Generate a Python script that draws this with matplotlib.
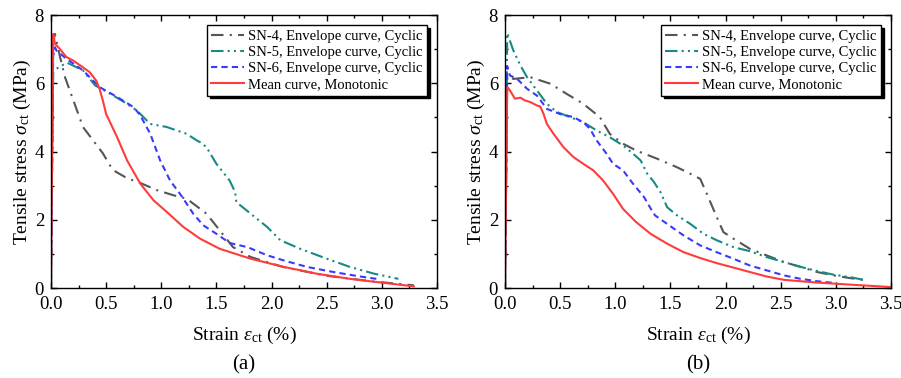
import matplotlib
matplotlib.use("Agg")
import matplotlib.pyplot as plt
from matplotlib.ticker import MultipleLocator

plt.rcParams['font.family'] = ['Liberation Serif', 'DejaVu Serif']
plt.rcParams['mathtext.fontset'] = 'custom'
plt.rcParams['mathtext.rm'] = 'Liberation Serif'
plt.rcParams['mathtext.it'] = 'Liberation Serif:italic'

# ---- (a) ----
a_sn4_x = [0.0, 0.01, 0.02, 0.036, 0.08, 0.127, 0.29, 0.47, 0.56, 0.69, 0.81, 0.96, 1.11, 1.23, 1.41, 1.53, 1.65, 1.81, 2.1, 2.5, 2.9, 3.29]
a_sn4_y = [0.0, 4.0, 7.2, 7.45, 6.8, 6.18, 4.72, 3.95, 3.46, 3.22, 3.08, 2.87, 2.72, 2.62, 2.18, 1.69, 1.2, 0.91, 0.62, 0.36, 0.2, 0.08]
a_sn5_x = [0.0, 0.01, 0.02, 0.036, 0.08, 0.15, 0.29, 0.4, 0.54, 0.69, 0.78, 0.9, 1.05, 1.23, 1.32, 1.35, 1.41, 1.5, 1.62, 1.67, 1.68, 1.81, 1.96, 2.08, 2.26, 2.5, 2.71, 2.93, 3.15]
a_sn5_y = [0.0, 3.5, 6.33, 6.39, 6.5, 6.6, 6.38, 5.94, 5.69, 5.4, 5.2, 4.81, 4.72, 4.52, 4.33, 4.28, 4.13, 3.64, 3.15, 2.81, 2.52, 2.18, 1.79, 1.4, 1.15, 0.86, 0.62, 0.42, 0.27]
a_sn6_x = [0.0, 0.01, 0.02, 0.036, 0.05, 0.14, 0.29, 0.44, 0.6, 0.75, 0.81, 0.9, 0.99, 1.08, 1.17, 1.22, 1.29, 1.38, 1.5, 1.62, 1.78, 1.96, 2.11, 2.32, 2.56, 2.8, 2.95]
a_sn6_y = [0.0, 3.5, 6.8, 7.06, 6.96, 6.72, 6.38, 5.89, 5.6, 5.3, 5.06, 4.52, 3.74, 3.15, 2.76, 2.52, 2.18, 1.84, 1.59, 1.32, 1.2, 0.96, 0.81, 0.62, 0.47, 0.34, 0.27]
a_mean_x = [0.0, 0.01, 0.02, 0.036, 0.08, 0.14, 0.2, 0.29, 0.35, 0.41, 0.44, 0.47, 0.5, 0.6, 0.69, 0.81, 0.93, 1.05, 1.2, 1.35, 1.53, 1.81, 2.11, 2.41, 2.71, 3.02, 3.29]
a_mean_y = [0.0, 4.0, 7.45, 7.16, 7.01, 6.77, 6.67, 6.47, 6.33, 6.08, 5.84, 5.5, 5.1, 4.42, 3.74, 3.06, 2.57, 2.23, 1.79, 1.45, 1.15, 0.86, 0.62, 0.42, 0.27, 0.15, 0.05]

# ---- (b) ----
b_sn4_x = [0.0, 0.01, 0.02, 0.076, 0.23, 0.41, 0.56, 0.71, 0.86, 0.95, 1.07, 1.19, 1.38, 1.56, 1.68, 1.77, 1.83, 1.92, 1.98, 2.07, 2.22, 2.37, 2.53, 2.68, 2.83, 2.98, 3.13, 3.25]
b_sn4_y = [0.0, 3.0, 6.2, 6.13, 6.18, 5.99, 5.69, 5.4, 5.01, 4.52, 4.23, 4.03, 3.79, 3.54, 3.35, 3.2, 2.76, 2.08, 1.64, 1.45, 1.15, 0.96, 0.76, 0.62, 0.47, 0.37, 0.29, 0.24]
b_sn5_x = [0.0, 0.01, 0.02, 0.076, 0.14, 0.2, 0.29, 0.38, 0.47, 0.59, 0.71, 0.83, 0.95, 1.07, 1.16, 1.23, 1.29, 1.35, 1.41, 1.47, 1.56, 1.68, 1.8, 1.92, 2.07, 2.22, 2.37, 2.53, 2.68, 2.83, 2.98, 3.13, 3.25]
b_sn5_y = [0.0, 3.5, 7.47, 6.96, 6.52, 6.18, 5.79, 5.4, 5.16, 5.01, 4.86, 4.62, 4.42, 4.18, 3.94, 3.74, 3.35, 3.11, 2.81, 2.37, 2.13, 1.88, 1.59, 1.4, 1.2, 1.08, 0.91, 0.76, 0.62, 0.5, 0.39, 0.32, 0.24]
b_sn6_x = [0.0, 0.01, 0.02, 0.045, 0.11, 0.2, 0.29, 0.38, 0.5, 0.62, 0.71, 0.77, 0.83, 0.92, 0.98, 1.07, 1.16, 1.26, 1.33, 1.36, 1.47, 1.62, 1.77, 1.92, 2.07, 2.22, 2.37, 2.53, 2.68, 2.83, 2.98]
b_sn6_y = [0.0, 3.0, 6.5, 6.23, 6.13, 5.84, 5.64, 5.25, 5.1, 5.01, 4.86, 4.67, 4.33, 3.94, 3.64, 3.45, 3.06, 2.67, 2.28, 2.13, 1.88, 1.54, 1.25, 1.05, 0.86, 0.66, 0.52, 0.37, 0.27, 0.2, 0.15]
b_mean_x = [0.0, 0.01, 0.02, 0.045, 0.09, 0.14, 0.18, 0.23, 0.29, 0.32, 0.35, 0.38, 0.44, 0.53, 0.62, 0.71, 0.8, 0.89, 0.98, 1.07, 1.19, 1.32, 1.47, 1.62, 1.77, 1.92, 2.07, 2.22, 2.37, 2.53, 2.83, 3.13, 3.49]
b_mean_y = [0.0, 3.0, 5.89, 5.79, 5.55, 5.58, 5.5, 5.45, 5.35, 5.32, 5.1, 4.81, 4.52, 4.13, 3.84, 3.64, 3.45, 3.15, 2.76, 2.32, 1.93, 1.59, 1.3, 1.05, 0.88, 0.73, 0.6, 0.47, 0.34, 0.24, 0.16, 0.1, 0.03]

labels = ["SN-4, Envelope curve, Cyclic", "SN-5, Envelope curve, Cyclic",
          "SN-6, Envelope curve, Cyclic", "Mean curve, Monotonic"]
colors = ["#555555", "#168a84", "#3a3aff", "#ff3b3b"]
styles = [(0, (6, 3, 1, 3)), (0, (6, 2, 1, 2, 1, 2)), (0, (3, 2)), "-"]

fig = plt.figure(figsize=(9.01, 3.78), dpi=100)
ax1 = fig.add_axes([0.0566, 0.238, 0.4284, 0.722])
ax2 = fig.add_axes([0.5605, 0.238, 0.4284, 0.722])

panels = [
    (ax1, [(a_sn4_x, a_sn4_y), (a_sn5_x, a_sn5_y), (a_sn6_x, a_sn6_y), (a_mean_x, a_mean_y)], "(a)"),
    (ax2, [(b_sn4_x, b_sn4_y), (b_sn5_x, b_sn5_y), (b_sn6_x, b_sn6_y), (b_mean_x, b_mean_y)], "(b)"),
]

for ax, series, tag in panels:
    for (xs, ys), lab, c, ls in zip(series, labels, colors, styles):
        ax.plot(xs, ys, color=c, linestyle=ls, linewidth=1.5, label=lab)
    ax.set_xlim(0, 3.5)
    ax.set_ylim(0, 8)
    ax.xaxis.set_major_locator(MultipleLocator(0.5))
    ax.xaxis.set_minor_locator(MultipleLocator(0.25))
    ax.yaxis.set_major_locator(MultipleLocator(2))
    ax.yaxis.set_minor_locator(MultipleLocator(1))
    ax.set_xticklabels([f"{v:.1f}" for v in ax.get_xticks()])
    ax.tick_params(which='both', direction='in', top=True, right=True, labelsize=13.5)
    ax.tick_params(axis='x', pad=6)
    ax.tick_params(axis='y', pad=5)
    ax.tick_params(which='major', length=4, width=1)
    ax.tick_params(which='minor', length=2.5, width=1)
    for sp in ax.spines.values():
        sp.set_linewidth(1)
    ax.set_xlabel(r"Strain $\varepsilon_{\rm ct}$ (%)", fontsize=14, labelpad=8)
    ax.set_ylabel(r"Tensile stress $\sigma_{\rm ct}$ (MPa)", fontsize=14, labelpad=1)
    leg = ax.legend(loc='upper right', fontsize=10.5, fancybox=False, edgecolor='black',
                    framealpha=1, shadow={'color': 'black', 'alpha': 1},
                    handlelength=2.2, handletextpad=0.3, borderpad=0.3,
                    labelspacing=0.2, borderaxespad=0.7)
    leg.get_frame().set_linewidth(1)
    pos = ax.get_position()
    fig.text((pos.x0 + pos.x1) / 2, 0.035, tag, ha='center', va='center', fontsize=15)

fig.savefig("out.png", dpi=100)
